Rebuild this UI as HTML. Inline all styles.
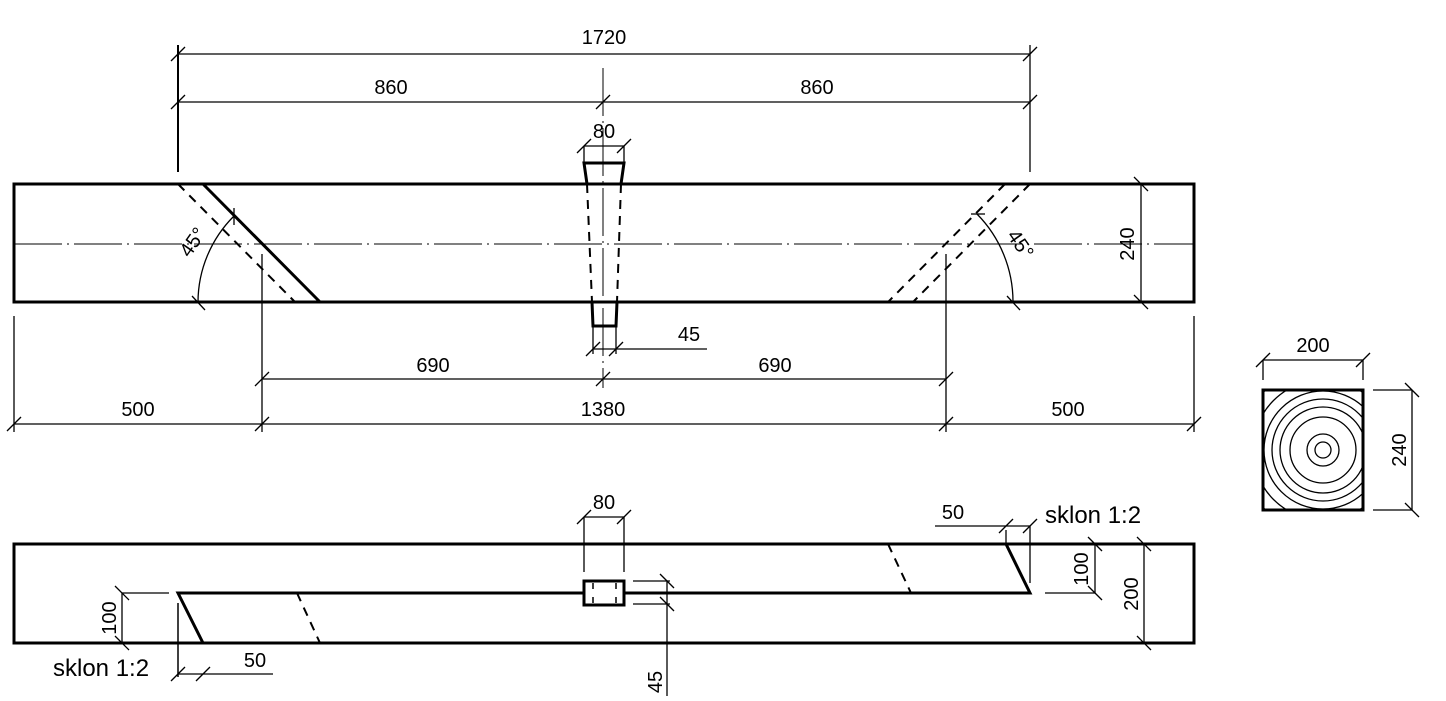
<!DOCTYPE html>
<html><head><meta charset="utf-8"><style>
html,body{margin:0;padding:0;background:#fff}
svg{display:block}
text{font-family:"Liberation Sans",Arial,sans-serif;font-size:20px;fill:#000}
text.sk{font-size:24px}
</style></head><body>
<svg width="1446" height="701" viewBox="0 0 1446 701" xmlns="http://www.w3.org/2000/svg">
<defs>
<clipPath id="cs"><rect x="1263" y="390" width="100" height="120"/></clipPath>
</defs>
<g fill="none" stroke="#000">
<rect x="14" y="184" width="1180" height="118" stroke-width="3"/>
<line x1="14" y1="244" x2="1194" y2="244" stroke-width="1" stroke-dasharray="48 5 2 5"/>
<line x1="603" y1="68" x2="603" y2="388" stroke-width="1" stroke-dasharray="48 5 2 5"/>
<line x1="203" y1="184" x2="320" y2="302" stroke-width="3"/>
<line x1="178" y1="184" x2="295" y2="302" stroke-width="2" stroke-dasharray="9 7"/>
<path d="M198 302 A122 122 0 0 1 234 216" stroke-width="1.3"/>
<line x1="192" y1="296" x2="205" y2="310" stroke-width="1.3"/>
<line x1="234" y1="208" x2="234" y2="225" stroke-width="1.3"/>
<line x1="1030" y1="184" x2="913" y2="302" stroke-width="2" stroke-dasharray="9 7"/>
<line x1="1005" y1="184" x2="888" y2="302" stroke-width="2" stroke-dasharray="9 7"/>
<path d="M1013 302 A125 125 0 0 0 977 214" stroke-width="1.3"/>
<line x1="1007" y1="296" x2="1020" y2="310" stroke-width="1.3"/>
<line x1="971" y1="214" x2="985" y2="214" stroke-width="1.3"/>
<line x1="262" y1="254" x2="262" y2="432" stroke-width="1.3"/>
<line x1="946" y1="254" x2="946" y2="432" stroke-width="1.3"/>
<line x1="14" y1="316" x2="14" y2="432" stroke-width="1.3"/>
<line x1="1194" y1="316" x2="1194" y2="432" stroke-width="1.3"/>
<line x1="178" y1="45" x2="178" y2="172" stroke-width="2"/>
<line x1="1030" y1="45" x2="1030" y2="172" stroke-width="1.3"/>
<line x1="178" y1="54" x2="1030" y2="54" stroke-width="1.3"/>
<line x1="178" y1="102" x2="1030" y2="102" stroke-width="1.3"/>
<g stroke-width="1.3">
<line x1="171" y1="61" x2="185" y2="47"/><line x1="1023" y1="61" x2="1037" y2="47"/>
<line x1="171" y1="109" x2="185" y2="95"/><line x1="596" y1="109" x2="610" y2="95"/><line x1="1023" y1="109" x2="1037" y2="95"/>
</g>
<path d="M587 184 L584 163 L624 163 L621 184" stroke-width="3"/>
<path d="M587 184 L592 302 M621 184 L617 302" stroke-width="2" stroke-dasharray="9 7"/>
<path d="M592 302 L593 326 L616 326 L617 302" stroke-width="3"/>
<line x1="584" y1="146" x2="584" y2="163" stroke-width="1.3"/>
<line x1="624" y1="146" x2="624" y2="163" stroke-width="1.3"/>
<line x1="584" y1="146" x2="624" y2="146" stroke-width="1.3"/>
<line x1="577" y1="153" x2="591" y2="139" stroke-width="1.3"/><line x1="617" y1="153" x2="631" y2="139" stroke-width="1.3"/>
<line x1="593" y1="326" x2="593" y2="354" stroke-width="1.3"/>
<line x1="616" y1="326" x2="616" y2="354" stroke-width="1.3"/>
<line x1="593" y1="349" x2="707" y2="349" stroke-width="1.3"/>
<line x1="586" y1="356" x2="600" y2="342" stroke-width="1.3"/><line x1="609" y1="356" x2="623" y2="342" stroke-width="1.3"/>
<line x1="262" y1="379" x2="946" y2="379" stroke-width="1.3"/>
<line x1="14" y1="424" x2="1194" y2="424" stroke-width="1.3"/>
<g stroke-width="1.3">
<line x1="255" y1="386" x2="269" y2="372"/><line x1="596" y1="386" x2="610" y2="372"/><line x1="939" y1="386" x2="953" y2="372"/>
<line x1="7" y1="431" x2="21" y2="417"/><line x1="255" y1="431" x2="269" y2="417"/><line x1="939" y1="431" x2="953" y2="417"/><line x1="1187" y1="431" x2="1201" y2="417"/>
</g>
<line x1="1141" y1="184" x2="1141" y2="302" stroke-width="1.3"/>
<line x1="1134" y1="177" x2="1148" y2="191" stroke-width="1.3"/><line x1="1134" y1="295" x2="1148" y2="309" stroke-width="1.3"/>

<rect x="14" y="544" width="1180" height="99" stroke-width="3"/>
<path d="M203 643 L178 593 L1030 593 L1006 544" stroke-width="3"/>
<line x1="297" y1="593" x2="320" y2="643" stroke-width="2" stroke-dasharray="9 7"/>
<line x1="888" y1="544" x2="911" y2="593" stroke-width="2" stroke-dasharray="9 7"/>
<rect x="584" y="581" width="40" height="24" fill="#fff" stroke-width="3"/>
<path d="M593 583 V603 M616 583 V603" stroke-width="1.5" stroke-dasharray="6 8"/>
<line x1="178" y1="603" x2="178" y2="677" stroke-width="1.5"/>
<line x1="178" y1="674" x2="273" y2="674" stroke-width="1.3"/>
<line x1="171" y1="681" x2="185" y2="667" stroke-width="1.3"/><line x1="196" y1="681" x2="210" y2="667" stroke-width="1.3"/>
<line x1="122" y1="593" x2="122" y2="643" stroke-width="1.3"/>
<line x1="122" y1="593" x2="169" y2="593" stroke-width="1.3"/>
<line x1="115" y1="586" x2="129" y2="600" stroke-width="1.3"/><line x1="115" y1="636" x2="129" y2="650" stroke-width="1.3"/>
<line x1="935" y1="526" x2="1030" y2="526" stroke-width="1.3"/>
<line x1="1030" y1="526" x2="1030" y2="583" stroke-width="1.3"/>
<line x1="1006" y1="530" x2="1006" y2="544" stroke-width="1.3"/>
<line x1="999" y1="533" x2="1013" y2="519" stroke-width="1.3"/><line x1="1023" y1="533" x2="1037" y2="519" stroke-width="1.3"/>
<line x1="1095" y1="544" x2="1095" y2="593" stroke-width="1.3"/>
<line x1="1045" y1="593" x2="1095" y2="593" stroke-width="1.3"/>
<line x1="1088" y1="537" x2="1102" y2="551" stroke-width="1.3"/><line x1="1088" y1="586" x2="1102" y2="600" stroke-width="1.3"/>
<line x1="1144" y1="544" x2="1144" y2="643" stroke-width="1.3"/>
<line x1="1137" y1="537" x2="1151" y2="551" stroke-width="1.3"/><line x1="1137" y1="636" x2="1151" y2="650" stroke-width="1.3"/>
<line x1="584" y1="517" x2="584" y2="572" stroke-width="1.3"/>
<line x1="624" y1="517" x2="624" y2="572" stroke-width="1.3"/>
<line x1="584" y1="517" x2="624" y2="517" stroke-width="1.3"/>
<line x1="577" y1="524" x2="591" y2="510" stroke-width="1.3"/><line x1="617" y1="524" x2="631" y2="510" stroke-width="1.3"/>
<line x1="633" y1="581" x2="670" y2="581" stroke-width="1.3"/>
<line x1="633" y1="604" x2="670" y2="604" stroke-width="1.3"/>
<line x1="667" y1="581" x2="667" y2="696" stroke-width="1.3"/>
<line x1="660" y1="574" x2="674" y2="588" stroke-width="1.3"/><line x1="660" y1="597" x2="674" y2="611" stroke-width="1.3"/>

<g clip-path="url(#cs)" stroke-width="1.3">
<circle cx="1323" cy="450" r="8"/><circle cx="1323" cy="450" r="16"/>
<circle cx="1323" cy="450" r="33"/><circle cx="1323" cy="450" r="43"/>
<circle cx="1323" cy="450" r="51"/><circle cx="1323" cy="450" r="59"/>
<circle cx="1323" cy="450" r="70"/><circle cx="1323" cy="450" r="83"/>
</g>
<rect x="1263" y="390" width="100" height="120" stroke-width="3"/>
<line x1="1263" y1="360" x2="1363" y2="360" stroke-width="1.3"/>
<line x1="1263" y1="360" x2="1263" y2="380" stroke-width="1.3"/><line x1="1363" y1="360" x2="1363" y2="380" stroke-width="1.3"/>
<line x1="1256" y1="367" x2="1270" y2="353" stroke-width="1.3"/><line x1="1356" y1="367" x2="1370" y2="353" stroke-width="1.3"/>
<line x1="1412" y1="390" x2="1412" y2="510" stroke-width="1.3"/>
<line x1="1373" y1="390" x2="1412" y2="390" stroke-width="1.3"/><line x1="1373" y1="510" x2="1412" y2="510" stroke-width="1.3"/>
<line x1="1405" y1="383" x2="1419" y2="397" stroke-width="1.3"/><line x1="1405" y1="503" x2="1419" y2="517" stroke-width="1.3"/>
</g>
<g text-anchor="middle">
<text x="604" y="44">1720</text>
<text x="391" y="94">860</text>
<text x="817" y="94">860</text>
<text x="604" y="138">80</text>
<text x="689" y="341">45</text>
<text x="433" y="372">690</text>
<text x="775" y="372">690</text>
<text x="138" y="416">500</text>
<text x="603" y="416">1380</text>
<text x="1068" y="416">500</text>
<text x="1313" y="352">200</text>
<text x="604" y="509">80</text>
<text x="953" y="519">50</text>
<text x="255" y="667">50</text>
<text transform="translate(1134,244) rotate(-90)">240</text>
<text transform="translate(1406,450) rotate(-90)">240</text>
<text transform="translate(1088,569) rotate(-90)">100</text>
<text transform="translate(1138,594) rotate(-90)">200</text>
<text transform="translate(116,618) rotate(-90)">100</text>
<text transform="translate(662,682) rotate(-90)">45</text>
<text transform="translate(198,246) rotate(-55)">45°</text>
<text transform="translate(1015,248) rotate(55)">45°</text>
</g>
<text class="sk" x="1045" y="523">sklon 1:2</text>
<text class="sk" x="53" y="676">sklon 1:2</text>
</svg>
</body></html>
